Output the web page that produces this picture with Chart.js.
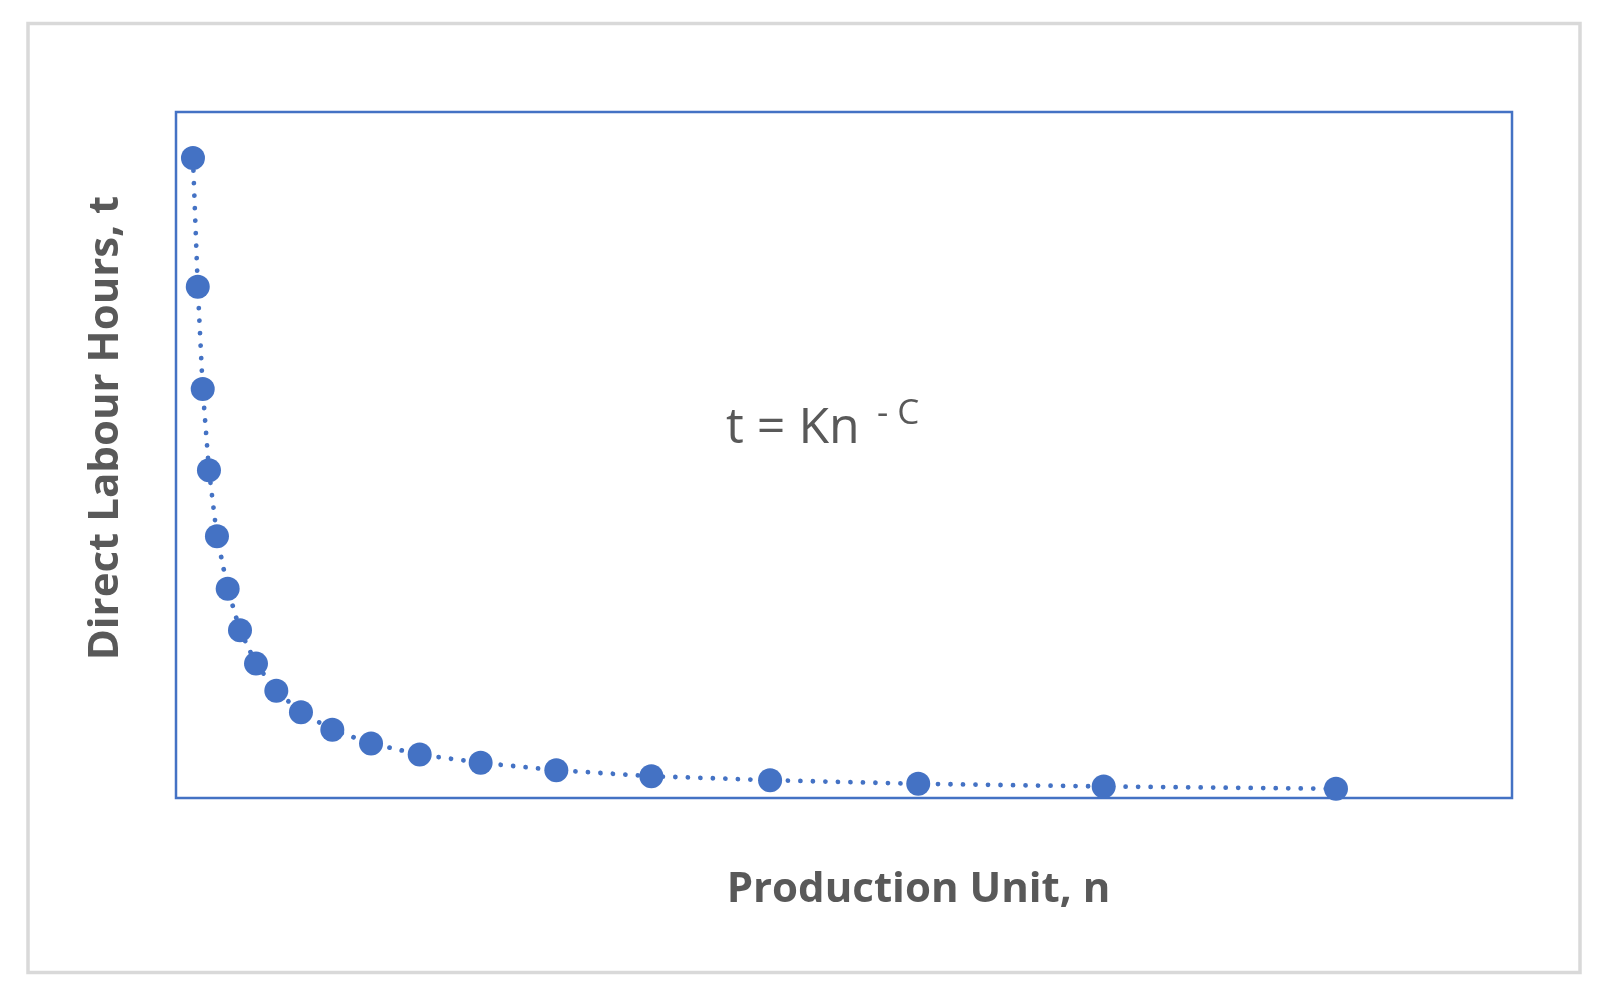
<!DOCTYPE html>
<html>
<head>
<meta charset="utf-8">
<script src="https://cdn.jsdelivr.net/npm/chart.js@4"></script>
<style>
  html, body { margin: 0; padding: 0; background: #ffffff; }
  #wrap { width: 1604px; height: 998px; }
</style>
</head>
<body>
<div id="wrap"><canvas id="c" width="1604" height="998"></canvas></div>
<script>
// Production unit n
const productionUnits = [1.06, 1.36, 1.67, 2.06, 2.56, 3.23, 4.0, 5.0, 6.27, 7.81, 9.77, 12.19, 15.23, 19.04, 23.77, 29.71, 37.13, 46.39, 57.98, 72.5];
// Direct labour hours t
const labourHours = [100.0, 79.9, 63.9, 51.2, 40.9, 32.7, 26.2, 21.0, 16.75, 13.4, 10.67, 8.52, 6.8, 5.5, 4.34, 3.41, 2.78, 2.22, 1.80, 1.44];

const xTitle = 'Production Unit, n';
const yTitle = 'Direct Labour Hours, t';
const equationMain = 't = Kn';
const equationExp = '- C';

const BLUE = '#4472c4';
const TEXT = '#595959';

const points = productionUnits.map((n, i) => ({ x: n, y: labourHours[i] }));

const decorPlugin = {
  id: 'decor',
  beforeDraw(chart) {
    const ctx = chart.ctx;
    ctx.save();
    ctx.fillStyle = '#ffffff';
    ctx.fillRect(0, 0, chart.width, chart.height);
    ctx.strokeStyle = '#d9d9d9';
    ctx.lineWidth = 3.5;
    ctx.strokeRect(28, 23.5, 1552, 949);
    ctx.restore();
  },
  beforeDatasetsDraw(chart) {
    const ctx = chart.ctx;
    const a = chart.chartArea;
    ctx.save();
    ctx.strokeStyle = BLUE;
    ctx.lineWidth = 2.5;
    ctx.strokeRect(a.left, a.top, a.right - a.left, a.bottom - a.top);
    ctx.restore();
  },
  afterDraw(chart) {
    const ctx = chart.ctx;
    ctx.save();
    ctx.fillStyle = TEXT;
    ctx.textBaseline = 'alphabetic';
    // x axis title
    ctx.font = 'bold 42px "Open Sans"';
    ctx.textAlign = 'center';
    ctx.fillText(xTitle, 918.5, 902);
    // y axis title
    ctx.save();
    ctx.translate(118, 428);
    ctx.rotate(-Math.PI / 2);
    ctx.fillText(yTitle, 0, 0);
    ctx.restore();
    // equation
    ctx.textAlign = 'left';
    ctx.font = '50px "Open Sans"';
    ctx.fillText(equationMain, 726, 443);
    ctx.font = '35px "Open Sans"';
    ctx.fillText(equationExp, 877, 424);
    ctx.restore();
  }
};

new Chart(document.getElementById('c'), {
  type: 'scatter',
  data: {
    datasets: [{
      data: points,
      showLine: true,
      tension: 0,
      borderColor: BLUE,
      borderWidth: 4.8,
      borderDash: [0.01, 12.5],
      borderCapStyle: 'round',
      backgroundColor: BLUE,
      pointBackgroundColor: BLUE,
      pointBorderColor: BLUE,
      pointBorderWidth: 0,
      pointRadius: 12,
      pointHoverRadius: 12,
      clip: false
    }]
  },
  options: {
    responsive: false,
    animation: false,
    devicePixelRatio: 1,
    layout: { padding: { left: 176, top: 112, right: 92, bottom: 200 } },
    plugins: { legend: { display: false }, tooltip: { enabled: false } },
    events: [],
    scales: {
      x: { type: 'linear', min: 0, max: 83.5, display: false },
      y: { type: 'linear', min: 0, max: 107.2, display: false }
    }
  },
  plugins: [decorPlugin]
});
</script>
</body>
</html>
